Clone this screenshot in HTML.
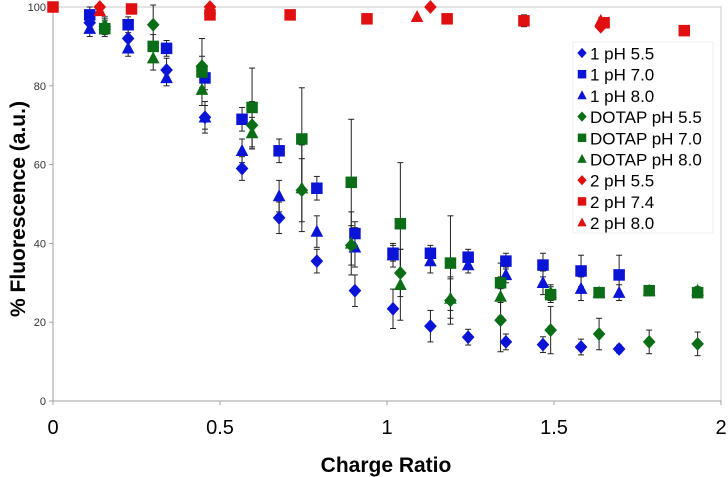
<!DOCTYPE html>
<html><head><meta charset="utf-8"><style>
html,body{margin:0;padding:0;background:#fff;}
svg{display:block;font-family:"Liberation Sans",Arial,sans-serif;}
</style></head><body>
<svg id="chart" width="728" height="477" viewBox="0 0 728 477" xmlns="http://www.w3.org/2000/svg">
<g id="grid"></g><g id="bars"></g><g id="marks"></g><g id="legend"></g>
<text x="386" y="472" font-size="21" font-weight="bold" text-anchor="middle" fill="#000">Charge Ratio</text>
<text transform="translate(25,209) rotate(-90)" font-size="21" font-weight="bold" text-anchor="middle" fill="#000">% Fluorescence (a.u.)</text>
</svg>
<script>
const xTicks=[0,0.5,1,1.5,2];
const xTickLabels=["0","0.5","1","1.5","2"];
const yTicks=[0,20,40,60,80,100];
const seriesNames=["1 pH 5.5","1 pH 7.0","1 pH 8.0","DOTAP pH 5.5","DOTAP pH 7.0","DOTAP pH 8.0","2 pH 5.5","2 pH 7.4","2 pH 8.0"];
const blueX=[0.11,0.225,0.34,0.455,0.566,0.677,0.79,0.904,1.018,1.13,1.243,1.356,1.467,1.581,1.695];
const b55=[96,92,84,72,59,46.5,35.5,28,23.4,19,16.2,15,14.3,13.7,13.2];
const b55e=[2,3,3,4,3,4,3,4,5,4,2,2,2,2,1];
const b70=[98,95.5,89.5,82,71.5,63.5,54,42.5,37.5,37.5,36.5,35.5,34.5,33,32];
const b70e=[2,2,2,3,3,3,3,3,2,2,2,2,3,4,5];
const b80=[94.5,89.5,82,72,63.5,52,43,39,37,35.5,34.5,32,30,28.5,27.5];
const b80e=[2,2,2,3,3,4,4,5,3,3,2,2,3,3,2];
const greenX=[0.155,0.30,0.446,0.596,0.745,0.893,1.04,1.19,1.34,1.49,1.635,1.785,1.93];
const g55=[95,95.5,85,70,53.5,39.5,32.5,25.5,20.5,18,17,15,14.5];
const g55e=[2,5,7,6,8,5,6,6,8,6,4,3,3];
const g70=[94.5,90,83.5,74.5,66.5,55.5,45,35,30,27,27.5,28,27.5];
const g70e=[2,3,4,10,13,16,15.5,12,5,2,1,1,1];
const g80=[95.5,87,79,68,54,40,29.5,26,26.5,27.5,27.5,28,28];
const g80e=[2,3,4,4,11,8,9,5,5,2,1,1,1];
const r55x=[0.14,0.47,1.13,1.64];
const r55=[100,100,100,95];
const r74x=[0,0.235,0.47,0.71,0.94,1.18,1.41,1.65,1.89];
const r74=[100,99.5,98,98,97,97,96.5,96,94];
const r74e=[0,0,0,1,0,0,1.5,0,0];
const r80x=[0.14,0.47,1.09,1.64];
const r80=[99,99.5,97.5,96.5];

const X0=53,X1=721,Y0=401,Y1=7;
const sx=v=>X0+(X1-X0)*v/2;
const sy=v=>Y0-(Y0-Y1)*v/100;
const NS="http://www.w3.org/2000/svg";
function mk(tag,attrs,parent){const e=document.createElementNS(NS,tag);for(const k in attrs)e.setAttribute(k,attrs[k]);parent.appendChild(e);return e;}
const grid=document.getElementById('grid'),bars=document.getElementById('bars'),marks=document.getElementById('marks'),leg=document.getElementById('legend');

let frame=mk('rect',{x:X0,y:Y1,width:X1-X0,height:Y0-Y1,fill:'none',stroke:'#c8c8c8','stroke-width':1},grid);


let yax=mk('line',{x1:X0,y1:Y1,x2:X0,y2:Y0,stroke:'#a0a0a0'},grid);


let xax=mk('line',{x1:X0,y1:Y0,x2:X1,y2:Y0,stroke:'#a0a0a0'},grid);


xTicks.forEach((t,i)=>{
  mk('line',{x1:sx(t),y1:Y0,x2:sx(t),y2:Y0+4,stroke:'#a0a0a0'},grid);
  const tx=mk('text',{x:sx(t),y:Y0+33,'font-size':20,'text-anchor':'middle',fill:'#000'},grid);
  tx.textContent=xTickLabels[i];
  
  
});
yTicks.forEach(t=>{
  mk('line',{x1:X0-4,y1:sy(t),x2:X0,y2:sy(t),stroke:'#a0a0a0'},grid);
  const tx=mk('text',{x:X0-7,y:sy(t)+4,'font-size':11,'text-anchor':'end',fill:'#333'},grid);
  tx.textContent=t;
  
  
});
function marker(shape,cx,cy,col,parent,s){
  s=s||1;
  if(shape==='d')return mk('polygon',{points:`${cx},${cy-6*s} ${cx+5.5*s},${cy} ${cx},${cy+6*s} ${cx-5.5*s},${cy}`,fill:col},parent);
  if(shape==='s')return mk('rect',{x:cx-5*s,y:cy-5*s,width:10*s,height:10*s,fill:col},parent);
  return mk('polygon',{points:`${cx},${cy-6*s} ${cx+5.5*s},${cy+4.5*s} ${cx-5.5*s},${cy+4.5*s}`,fill:col},parent);
}
const BLUE='#0a14d6',GREEN='#0b6e17',RED='#e01010';
const series=[
 [blueX,b55,b55e,'d',BLUE],[blueX,b70,b70e,'s',BLUE],[blueX,b80,b80e,'t',BLUE],
 [greenX,g55,g55e,'d',GREEN],[greenX,g70,g70e,'s',GREEN],[greenX,g80,g80e,'t',GREEN],
 [r55x,r55,null,'d',RED],[r74x,r74,r74e,'s',RED],[r80x,r80,null,'t',RED]];
series.forEach((s,si)=>{
  const [xs,ys,es,sh,col]=s;
  xs.forEach((x,i)=>{
    if(es&&es[i]>0){
      const px=sx(x),a=sy(ys[i]-es[i]),b=sy(Math.min(ys[i]+es[i],101));
      mk('line',{x1:px,y1:a,x2:px,y2:b,stroke:'#222','stroke-width':1},bars);
      mk('line',{x1:px-3,y1:a,x2:px+3,y2:a,stroke:'#222'},bars);
      mk('line',{x1:px-3,y1:b,x2:px+3,y2:b,stroke:'#222'},bars);
    }
    const m=marker(sh,sx(x),sy(ys[i]),col,marks,1.15);
    
    
  });
});
let lb=mk('rect',{x:573,y:42,width:140,height:191,fill:'#fff',stroke:'#eee'},leg);


seriesNames.forEach((n,i)=>{
  const y=53+i*21.2;
  const g=mk('g',{},leg);
  
  
  marker(series[i][3],582,y,series[i][4],g,0.85);
  const t=mk('text',{x:590,y:y+6.5,'font-size':17,fill:'#000'},g);
  t.textContent=n;
});
</script>
</body></html>
